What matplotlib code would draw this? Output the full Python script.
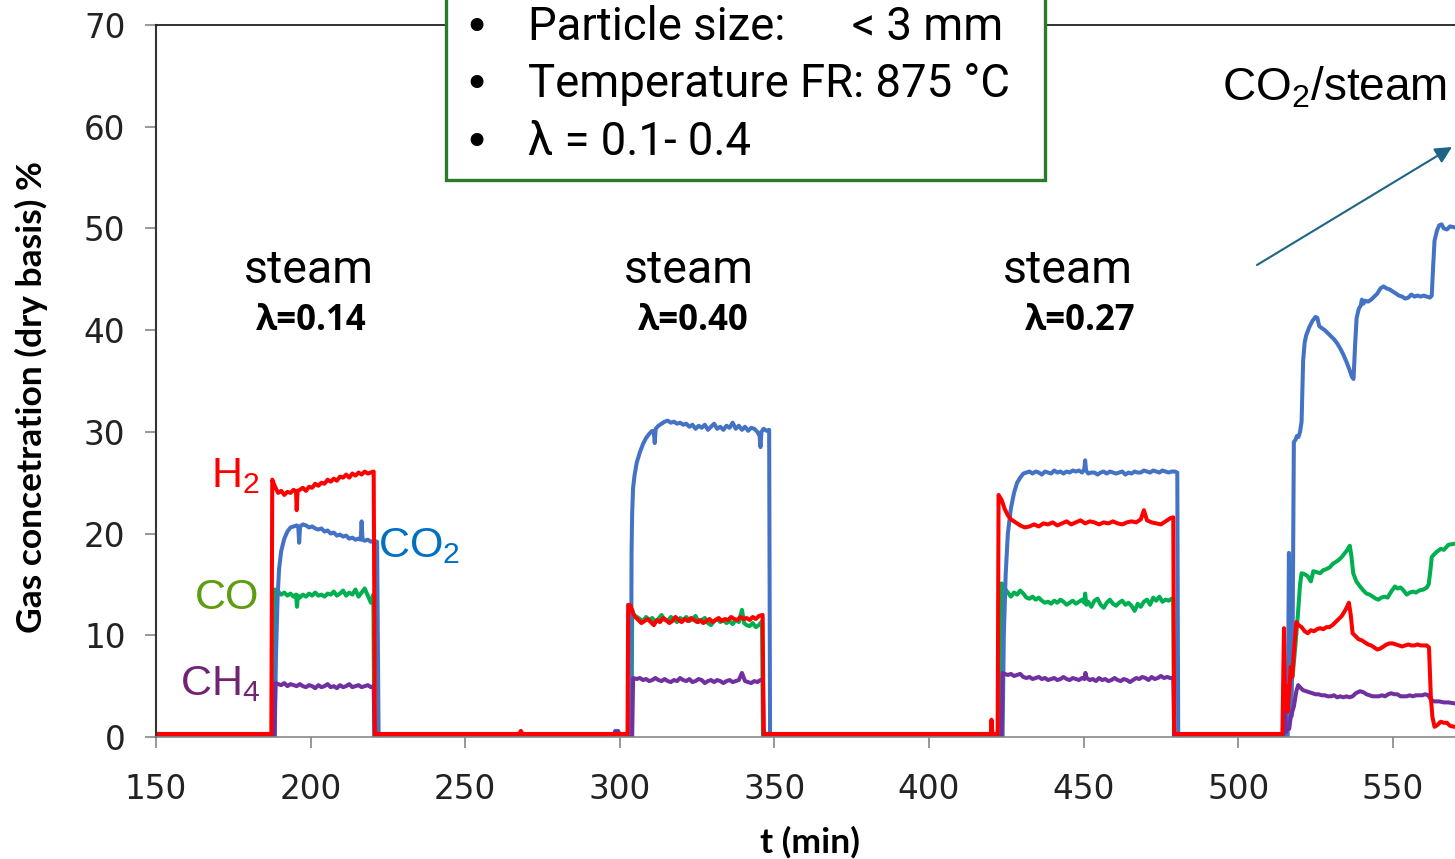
import matplotlib

matplotlib.use("Agg")
import matplotlib.pyplot as plt
from matplotlib.patches import Rectangle

# ---- data (t in min, concentration in %) ----
h2_t = [150, 187.2, 187.3, 187.6, 188.5, 189.5, 190.5, 191.5, 192.5, 193.5, 194.5, 195.3, 195.5, 195.8,
        196.5, 197.5, 198.5, 199.5, 200.5, 201.5, 202.5, 203.5, 204.5, 205.5, 206.5, 207.5, 208.5,
        209.5, 210.5, 211.5, 212.5, 213.5, 214.5, 215.5, 216.5, 217.5, 218.5, 219.5, 220.4, 220.8,
        267.5, 268.0, 268.5, 302.5, 302.7, 303.5, 304.2, 305, 306, 307, 308, 309, 310, 311, 312, 313,
        314, 315, 316, 317, 318, 319, 320, 321, 322, 323, 324, 325, 326, 327, 328, 329, 330, 331, 332,
        333, 334, 335, 336, 337, 338, 339, 340, 341, 342, 343, 344, 345, 346.2, 346.5,
        420.0, 420.2, 420.5, 422.2, 422.5, 423.5, 424.5, 425.5, 426.5, 428, 429.5, 431, 432.5, 434,
        435.5, 437, 438.5, 440, 441.5, 443, 444.5, 446, 447.5, 449, 450.5, 452, 453.5, 455, 456.5,
        458, 459.5, 461, 462.5, 464, 465.5, 467, 468.5, 469.5, 470.5, 472, 473.5, 475, 476.5, 478,
        479, 479.3, 514.3, 514.8, 515.2, 515.6, 516.0, 516.5, 517.0, 517.5, 518.0, 518.8, 519.5,
        520.5, 521.5, 522.5, 523.5, 524.5, 525.5, 526.5, 527.5, 528.5, 529.5, 530.5, 531.5, 532.5,
        533.5, 534.5, 535.2, 535.8, 536.4, 537.0, 538.0, 539.0, 540.0, 541.0, 542.0, 543.0, 544.0,
        545.0, 546.0, 547.0, 548.0, 549.0, 550.0, 551.0, 552.0, 553.0, 554.0, 555.0, 556.0, 557.0,
        558.0, 559.0, 560.0, 561.0, 561.7, 562.3, 562.8, 563.5, 564.5, 565.5, 566.5, 567.5, 568.5,
        570]
h2_v = [0.3, 0.3, 0.3, 25.3, 24.6, 24.0, 24.2, 23.8, 24.1, 24.0, 24.3, 24.1, 22.3, 24.2,
        24.3, 24.5, 24.2, 24.6, 24.5, 24.9, 24.7, 25.0, 24.9, 25.3, 25.1, 25.4, 25.2,
        25.6, 25.5, 25.8, 25.5, 25.9, 25.7, 26.0, 25.8, 26.1, 25.9, 26.0, 26.1, 0.3,
        0.3, 0.6, 0.3, 0.3, 13.0, 12.9, 12.2, 11.8, 11.5, 11.2, 11.4, 11.6, 11.3, 11.0, 11.5, 11.3,
        11.7, 11.5, 11.2, 11.4, 11.8, 11.5, 11.3, 11.6, 11.4, 11.7, 11.5, 11.3, 11.5, 11.2, 11.4, 11.6,
        11.3, 11.5, 11.7, 11.4, 11.6, 11.5, 11.8, 11.6, 11.5, 11.8, 11.6, 11.7, 11.5, 11.8, 11.6,
        11.9, 12.0, 0.3,
        0.3, 1.7, 0.3, 0.3, 23.8, 23.3, 22.4, 21.8, 21.4, 21.1, 20.8, 20.6, 20.7, 20.9,
        20.7, 21.0, 20.9, 21.1, 20.8, 21.0, 21.2, 20.9, 21.1, 21.3, 21.0, 21.2, 21.1, 20.9, 21.1,
        21.0, 21.2, 21.0, 20.9, 21.1, 21.2, 21.1, 21.4, 22.3, 21.3, 21.1, 21.0, 20.9, 21.2, 21.5,
        21.6, 0.3, 0.3, 10.7, 3.0, 5.0, 2.5, 4.5, 6.9, 5.9, 8.3, 11.3, 11.0,
        10.8, 10.4, 10.2, 10.5, 10.4, 10.6, 10.7, 10.6, 10.8, 10.8, 11.0, 11.3, 11.6,
        11.9, 12.4, 12.8, 13.2, 12.0, 10.2, 9.9, 9.6, 9.5, 9.3, 9.1, 9.0, 8.8,
        8.6, 8.7, 8.9, 9.1, 9.2, 9.2, 9.1, 9.0, 8.9, 9.0, 9.1, 9.0, 9.0,
        9.1, 9.0, 9.0, 9.0, 8.8, 4.0, 2.0, 1.0, 1.2, 1.5, 1.4, 1.4, 1.1,
        1.0]

co2_t = [150, 188.4, 188.8, 189.3, 189.8, 190.5, 191.5, 192.5, 193.5, 194.5, 195.5, 196.0, 196.3, 196.6,
         197.5, 198.5, 199.5, 200.5, 201.5, 202.5, 203.5, 204.5, 205.5, 206.5, 207.5, 208.5, 209.5,
         210.5, 211.5, 212.5, 213.5, 214.5, 215.5, 216.2, 216.5, 216.8, 217.5, 218.5, 219.5, 220.5,
         221.5, 222.0, 298.0, 298.5, 299.5, 300.0, 303.6, 303.8, 304.0, 304.3, 304.8, 305.5, 306.5,
         307.5, 308.5, 309.5, 310.5, 311.0, 311.3, 311.6, 312.5, 313.5, 314.5, 315.5, 316.5, 317.5,
         318.5, 319.5, 320.5, 321.5, 322.5, 323.5, 324.5, 325.5, 326.5, 327.5, 328.5, 329.5, 330.5,
         331.5, 332.5, 333.5, 334.5, 335.5, 336.5, 337.5, 338.5, 339.5, 340.5, 341.5, 342.5, 343.5,
         344.5, 345.2, 345.5, 345.8, 346.5, 347.5, 348.3, 348.6,
         423.8, 424.2, 424.8, 425.5, 426.5, 427.5, 428.5, 429.5, 430.5, 431.5, 432.5, 433.5, 434.5,
         435.5, 436.5, 437.5, 438.5, 439.5, 440.5, 441.5, 442.5, 443.5, 444.5, 445.5, 446.5, 447.5,
         448.5, 449.5, 450.2, 450.5, 450.8, 451.5, 452.5, 453.5, 454.5, 455.5, 456.5, 457.5, 458.5,
         459.5, 460.5, 461.5, 462.5, 463.5, 464.5, 465.5, 466.5, 467.5, 468.5, 469.5, 470.5, 471.5,
         472.5, 473.5, 474.5, 475.5, 476.5, 477.5, 478.5, 479.5, 480.3, 480.6,
         516.0, 516.4, 516.8, 517.2, 517.6, 518.0, 518.5, 519.0, 519.5, 520.0, 520.5, 521.0, 521.5,
         522.0, 523.0, 524.0, 525.0, 525.6, 526.2, 527, 528, 529, 530, 531, 532, 533, 534, 535, 536,
         536.8, 537.3, 537.8, 538.3, 539, 539.6, 540, 540.5, 541, 542, 543, 544, 545, 546, 547, 548,
         549, 550, 551, 552, 553, 554, 555, 556, 557, 558, 559, 560, 561, 562, 562.6, 563.0, 563.5,
         564.3, 565, 565.8, 566.5, 567.5, 568.5, 570]
co2_v = [0, 0, 8.0, 13.5, 16.5, 18.3, 19.5, 20.2, 20.6, 20.7, 20.8, 20.7, 19.1, 20.7,
         20.9, 20.8, 20.6, 20.7, 20.5, 20.4, 20.5, 20.2, 20.3, 20.0, 20.1, 19.8, 19.9,
         19.7, 19.8, 19.5, 19.6, 19.4, 19.5, 19.4, 21.2, 19.4, 19.3, 19.4, 19.2, 19.3,
         19.2, 0, 0, 0.6, 0.6, 0, 0, 18.2, 22.0, 24.5, 25.8, 27.0, 28.0,
         28.8, 29.4, 29.8, 30.1, 30.0, 28.9, 30.3, 30.6, 30.8, 31.0, 31.1, 30.9, 31.0,
         30.8, 30.9, 30.7, 30.8, 30.5, 30.7, 30.3, 30.6, 30.4, 30.7, 30.2, 30.5, 30.8,
         30.3, 30.5, 30.2, 30.6, 30.4, 30.9, 30.3, 30.6, 30.2, 30.5, 30.1, 30.4, 30.3,
         30.0, 29.6, 28.5, 30.0, 30.3, 30.1, 30.2, 0,
         0, 10.0, 16.0, 20.0, 22.5, 24.0, 25.0, 25.5, 25.9, 26.0, 26.1, 25.9, 26.1,
         26.0, 25.8, 26.1, 26.0, 25.9, 26.2, 26.0, 26.1, 25.9, 26.1, 26.0, 26.2, 26.1,
         26.2, 26.0, 26.3, 27.2, 26.2, 25.9, 26.0, 26.0, 25.8, 26.0, 26.1, 25.9, 26.1,
         26.0, 25.9, 26.0, 26.1, 25.8, 26.0, 25.9, 26.1, 26.0, 26.0, 26.2, 26.1, 26.0,
         26.2, 26.1, 26.0, 26.2, 26.1, 26.0, 26.1, 26.1, 26.0, 0,
         0, 18.1, 8.0, 2.0, 10.0, 29.0, 29.2, 29.6, 29.5, 30.0, 31.0, 37.0, 38.8,
         39.5, 40.3, 40.9, 41.3, 41.2, 40.4, 40.2, 40.0, 39.7, 39.4, 39.1, 38.7, 38.2, 37.6, 36.9, 36.1,
         35.4, 35.2, 38.5, 41.2, 42.1, 42.4, 43.0, 42.6, 42.9, 42.8, 43.0, 43.3, 43.6, 44.1, 44.3, 44.1,
         44.0, 43.8, 43.6, 43.4, 43.3, 43.1, 43.2, 43.5, 43.3, 43.4, 43.3, 43.4, 43.3, 43.2, 43.4, 46.0, 48.8,
         49.8, 50.3, 50.4, 50.0, 49.9, 50.2, 50.1]

co_t = [150, 188.3, 188.5, 189.5, 190.5, 191.5, 192.5, 193.5, 194.5, 195.3, 195.6, 195.9, 196.5, 197.5,
        198.5, 199.5, 200.5, 201.5, 202.5, 203.5, 204.5, 205.5, 206.5, 207.5, 208.5, 209.5, 210.5,
        211.5, 212.5, 213.5, 214.5, 215.5, 216.5, 217.5, 218.5, 219.5, 220.3, 220.6,
        303.8, 304.0, 304.5, 305.5, 306.5, 307.5, 308.5, 309.5, 310.5, 311.5, 312.5, 313.5, 314.5,
        315.5, 316.5, 317.5, 318.5, 319.5, 320.5, 321.5, 322.5, 323.5, 324.5, 325.5, 326.5, 327.5,
        328.5, 329.5, 330.5, 331.5, 332.5, 333.5, 334.5, 335.5, 336.5, 337.5, 338.5, 339.5, 340.2,
        341, 342, 343, 344, 345, 346, 346.3,
        423.0, 423.5, 424.5, 425.5, 426.5, 427.5, 428.5, 429.5, 430.5, 431.5, 432.5, 433.5, 434.5,
        435.5, 436.5, 437.5, 438.5, 439.5, 440.5, 441.5, 442.5, 443.5, 444.5, 445.5, 446.5, 447.5,
        448.5, 449.5, 450.2, 450.5, 450.9, 451.5, 452.5, 453.5, 454.5, 455.5, 456.5, 457.5, 458.5,
        459.5, 460.5, 461.5, 462.5, 463.5, 464.5, 465.5, 466.5, 467.5, 468.5, 469.5, 470.5, 471.5,
        472.5, 473.5, 474.5, 475.5, 476.5, 477.5, 478.5, 479.0, 479.3,
        515.5, 516.0, 517.0, 517.7, 518.5, 519.3, 520.0, 520.5, 521.5, 522.5, 523.5, 524.3, 525.5,
        526.5, 527.5, 528.5, 529.7, 530.5, 531.5, 532.5, 533.5, 534.5, 535.3, 536.1, 536.6, 537.2,
        538.2, 539.4, 540.5, 541.5, 542.5, 543.5, 544.5, 545.3, 546.3, 547.3, 548.3, 549.5, 550.7,
        551.5, 552.5, 553.5, 554.5, 555.5, 556.5, 557.5, 558.5, 559.9, 561.0, 561.6, 562.2, 562.6,
        563.5, 564.2, 565.5, 566.5, 568, 570]
co_v = [0, 0, 14.5, 14.3, 14.0, 14.2, 13.9, 14.1, 13.8, 14.0, 12.8, 13.9, 13.7, 14.0,
        13.8, 14.1, 13.9, 14.2, 13.9, 14.0, 13.8, 14.1, 14.0, 14.3, 13.9, 14.1, 14.4,
        13.9, 14.2, 14.0, 14.5, 13.8, 14.2, 14.6, 13.9, 13.2, 14.0, 0,
        0, 12.5, 12.0, 11.8, 11.6, 11.4, 11.8, 11.5, 11.7, 11.3, 11.6, 12.0, 11.5,
        11.4, 11.8, 11.6, 11.3, 11.7, 11.5, 11.8, 11.4, 11.6, 11.9, 11.3, 11.5, 11.7,
        11.2, 11.0, 11.4, 11.6, 11.3, 11.5, 11.2, 11.4, 11.1, 11.5, 11.3, 12.5, 11.2,
        11.0, 10.9, 11.2, 10.8, 11.0, 11.4, 0,
        0, 15.1, 14.6, 14.2, 13.8, 14.2, 14.0, 14.4, 14.1, 13.7, 13.6, 13.8, 13.5,
        13.7, 13.4, 13.2, 13.3, 13.1, 13.4, 13.2, 13.5, 13.3, 13.0, 13.2, 13.4, 13.1,
        13.3, 13.5, 13.2, 14.1, 13.0, 13.3, 12.8, 13.4, 13.6, 13.0, 12.7, 13.2, 13.5,
        13.1, 12.9, 13.2, 13.4, 13.0, 13.2, 12.9, 12.4, 13.1, 12.8, 13.3, 13.5, 13.0,
        13.7, 13.4, 13.8, 13.3, 13.5, 13.4, 13.6, 13.5, 0,
        0, 2.0, 5.0, 6.3, 9.0, 12.0, 15.0, 16.1, 16.0, 15.8, 15.3, 16.3, 16.2,
        16.1, 16.4, 16.5, 16.7, 17.0, 17.2, 17.4, 17.7, 18.1, 18.4, 18.8, 17.8, 16.1,
        15.3, 14.8, 14.4, 14.1, 14.0, 13.8, 13.6, 13.5, 13.7, 13.8, 13.7, 14.3, 14.8,
        14.6, 14.7, 14.4, 14.0, 14.2, 14.3, 14.2, 14.4, 14.5, 14.7, 15.0, 16.5, 17.7,
        18.0, 18.2, 18.5, 18.4, 18.9, 19.0]

ch4_t = [150, 188.3, 188.6, 189.5, 190.5, 191.5, 192.5, 193.5, 194.5, 195.5, 196.5, 197.5, 198.5,
         199.5, 200.5, 201.5, 202.5, 203.5, 204.5, 205.5, 206.5, 207.5, 208.5, 209.5, 210.5, 211.5,
         212.5, 213.5, 214.5, 215.5, 216.5, 217.5, 218.5, 219.5, 220.4, 220.7,
         298.0, 298.5, 299.5, 300.0,
         304.0, 304.3, 305.5, 306.5, 307.5, 308.5, 309.5, 310.5, 311.5, 312.5, 313.5, 314.5, 315.5,
         316.5, 317.5, 318.5, 319.5, 320.5, 321.5, 322.5, 323.5, 324.5, 325.5, 326.5, 327.5, 328.5,
         329.5, 330.5, 331.5, 332.5, 333.5, 334.5, 335.5, 336.5, 337.5, 338.5, 339.5, 340.5, 341.5,
         342.5, 343.5, 344.5, 345.5, 346.3, 346.6,
         423.5, 423.8, 424.5, 425.5, 426.5, 427.5, 428.5, 429.5, 430.5, 431.5, 432.5, 433.5, 434.5,
         435.5, 436.5, 437.5, 438.5, 439.5, 440.5, 441.5, 442.5, 443.5, 444.5, 445.5, 446.5, 447.5,
         448.5, 449.5, 450.3, 450.6, 451.0, 452, 453, 454, 455, 456, 457, 458, 459, 460, 461, 462,
         463, 464, 465, 466, 467, 468, 469, 470, 471, 472, 473, 474, 475, 476, 477, 478, 479.0, 479.3,
         514.5, 515.1, 515.5, 516.0, 516.5, 517.0, 518.0, 518.8, 519.4, 520.3, 521, 522, 523, 524,
         525, 526, 527, 528, 529, 530, 531, 532, 533, 534, 535, 536, 537, 538, 539.4, 540.5, 541.5,
         542.5, 543.5, 544.5, 545.5, 546.5, 547.5, 548.5, 549.5, 550.5, 551.5, 552.5, 553.5, 554.5,
         555.5, 556.5, 557.5, 558.5, 559.5, 560.5, 561.5, 562.5, 563.5, 565, 566.5, 568, 570]
ch4_v = [0, 0, 5.3, 5.2, 5.1, 5.3, 5.0, 5.2, 5.1, 5.0, 5.2, 5.0, 4.9,
         5.1, 5.0, 4.8, 5.1, 4.9, 5.0, 5.2, 4.9, 5.0, 4.8, 5.1, 4.9, 5.0,
         5.2, 4.9, 5.0, 5.1, 4.9, 5.0, 5.1, 4.9, 5.0, 0,
         0, 0.5, 0.5, 0,
         0, 5.8, 5.7, 5.8, 5.6, 5.7, 5.5, 5.6, 5.8, 5.6, 5.5, 5.7, 5.5,
         5.4, 5.6, 5.5, 5.8, 5.6, 5.5, 5.7, 5.4, 5.5, 5.7, 5.6, 5.3, 5.5,
         5.6, 5.4, 5.6, 5.5, 5.3, 5.5, 5.6, 5.4, 5.5, 5.6, 6.3, 5.5, 5.4,
         5.3, 5.5, 5.4, 5.6, 5.6, 0,
         0, 6.3, 6.2, 6.1, 6.2, 6.0, 6.1, 6.2, 5.9, 5.8, 5.9, 5.7, 5.8,
         5.9, 5.7, 5.8, 5.6, 5.7, 5.8, 5.6, 5.7, 5.9, 5.7, 5.6, 5.8, 5.7,
         5.6, 5.8, 5.7, 6.3, 5.8, 5.6, 5.7, 5.5, 5.8, 5.6, 5.7, 5.5, 5.6, 5.8, 5.6, 5.5,
         5.7, 5.6, 5.4, 5.6, 5.8, 5.7, 5.9, 5.8, 5.6, 5.9, 5.7, 5.8, 6.0, 5.8, 5.9, 5.8, 5.8, 0,
         0, 3.0, 0.5, 1.0, 0.8, 2.0, 3.0, 4.5, 5.1, 4.8, 4.6, 4.5, 4.4, 4.3,
         4.2, 4.2, 4.1, 4.1, 4.0, 4.0, 4.1, 3.9, 4.0, 3.9, 4.0, 3.9, 4.0, 4.3, 4.5, 4.4, 4.2,
         4.1, 4.0, 4.0, 4.0, 4.1, 4.0, 4.2, 4.3, 4.2, 4.2, 4.0, 4.0, 4.0,
         4.1, 4.0, 4.1, 4.1, 4.1, 4.2, 4.1, 3.6, 3.5, 3.5, 3.4, 3.4, 3.3]

x_ticks = [150, 200, 250, 300, 350, 400, 450, 500, 550]
y_ticks = [0, 10, 20, 30, 40, 50, 60, 70]

phase_names = ["steam", "steam", "steam"]
phase_lambda = ["λ=0.14", "λ=0.40", "λ=0.27"]
phase_x = [199.5, 322.3, 445.0]
lambda_x = [200.3, 323.8, 448.8]

info_lines = ["Particle size:", "Temperature FR: 875 °C", "λ = 0.1- 0.4"]

C_H2, C_CO2, C_CO, C_CH4 = "#FF0000", "#4472C4", "#00B050", "#7030A0"

plt.rcParams["mathtext.fontset"] = "custom"
plt.rcParams["mathtext.rm"] = "Liberation Sans"
plt.rcParams["mathtext.it"] = "Liberation Sans:italic"
plt.rcParams["mathtext.bf"] = "Liberation Sans:bold"

W, H = 1455, 859
fig = plt.figure(figsize=(W / 100, H / 100), dpi=100)
ax = fig.add_axes([156 / W, (H - 737) / H, 1 - 156 / W, (737 - 25) / H])

lw = 2.9
ax.plot(co_t, co_v, color=C_CO, lw=lw, solid_joinstyle="round")
ax.plot(co2_t, co2_v, color=C_CO2, lw=lw, solid_joinstyle="round")
ax.plot(ch4_t, ch4_v, color=C_CH4, lw=lw, solid_joinstyle="round")
ax.plot(h2_t, h2_v, color=C_H2, lw=lw, solid_joinstyle="round")

ax.set_xlim(150, 150 + (W - 156) / 3.092)
ax.set_ylim(0, 70)
ax.set_xticks(x_ticks)
ax.set_yticks(y_ticks)
ax.tick_params(axis="both", labelsize=23.5, colors="#868686", labelcolor="#222222",
               length=8, width=1.2, direction="out")
ax.tick_params(axis="x", pad=18)
ax.tick_params(axis="y", pad=14)
for lab in ax.get_xticklabels() + ax.get_yticklabels():
    lab.set_fontfamily("DejaVu Sans")
ax.spines["right"].set_visible(False)
ax.spines["left"].set_color("#333333")
ax.spines["left"].set_linewidth(1.5)
ax.spines["top"].set_color("#222222")
ax.spines["top"].set_linewidth(1.3)
ax.spines["bottom"].set_color("#888888")
ax.spines["bottom"].set_linewidth(1.2)

lab_font = dict(family="Lato", weight="bold", fontsize=25.5)
fig.text(31 / W, 1 - 397 / H, "Gas concetration (dry basis) %", rotation=90,
         ha="center", va="center", **lab_font)
fig.text(810 / W, 1 - 842 / H, "t (min)", ha="center", va="center", **lab_font)

# phase annotations
for x, name in zip(phase_x, phase_names):
    ax.text(x, 44.6, name, ha="center", va="baseline", fontsize=33.5, family="Roboto")
for x, lam in zip(lambda_x, phase_lambda):
    ax.text(x, 40.0, lam, ha="center", va="baseline", fontsize=25, weight="bold",
            family=["Open Sans", "DejaVu Sans"])

# species labels
sp_font = dict(fontsize=31, family="Liberation Sans", va="baseline")
ax.text(183.6, 24.6, "H$_2$", color="#FF0000", ha="right", **sp_font)
ax.text(183.3, 12.6, "CO", color="#5E9C10", ha="right", **sp_font)
ax.text(183.6, 4.1, "CH$_4$", color="#702573", ha="right", **sp_font)
ax.text(221.9, 17.7, "CO$_2$", color="#0070C0", ha="left", **sp_font)

# CO2/steam arrow + label
ax.annotate("", xy=(1452, H - 147), xytext=(1257, H - 265),
            xycoords="figure pixels", textcoords="figure pixels",
            arrowprops=dict(arrowstyle="-|>,head_length=1.0,head_width=0.5",
                            color="#1D6585", lw=1.5, shrinkA=0, shrinkB=0),
            annotation_clip=False)
fig.text(1222 / W, 1 - 101 / H, "CO$_2$/steam", fontsize=33, family="Liberation Sans",
         ha="left", va="baseline")

# info box over the top spine
box = Rectangle((446 / W, 1 - 180 / H), (1045 - 446) / W, 200 / H, transform=fig.transFigure,
                facecolor="white", edgecolor="#2A7A2A", lw=2.4, zorder=5)
fig.patches.append(box)
baselines = [40, 97, 155]
for yb, line in zip(baselines, info_lines):
    fig.text(476 / W, 1 - (yb + 1) / H, "•", fontsize=32, family="DejaVu Sans", ha="center",
             va="baseline", zorder=6)
    fig.text(528 / W, 1 - yb / H, line, fontsize=32.8, family=["Roboto", "DejaVu Serif"],
             ha="left", va="baseline", zorder=6)
fig.text(852 / W, 1 - baselines[0] / H, "< 3 mm", fontsize=32.8, family="Roboto",
         ha="left", va="baseline", zorder=6)

fig.savefig("out.png", dpi=100)
